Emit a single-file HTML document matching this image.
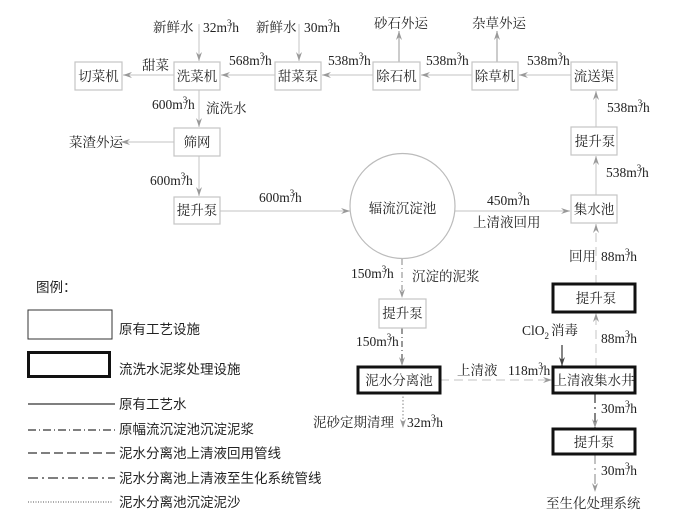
<!DOCTYPE html>
<html><head><meta charset="utf-8"><style>
html,body{margin:0;padding:0;background:#fff;}
svg{display:block;}
.t{font-family:"Liberation Serif","Noto Serif CJK SC",serif;font-size:13.5px;fill:#222;}
.l{font-family:"Liberation Sans","Noto Sans CJK SC",sans-serif;font-size:13.5px;fill:#222;}
.bx{fill:#fff;stroke:#c4c4c4;stroke-width:1.2;}
.bk{fill:#fff;stroke:#111;stroke-width:3;}
.ln{stroke:#cfcfcf;stroke-width:1.2;fill:none;}
</style></head><body>
<svg width="700" height="527" viewBox="0 0 700 527" xmlns="http://www.w3.org/2000/svg">
<defs>
<marker id="a" markerWidth="10" markerHeight="8" refX="9" refY="4" orient="auto" markerUnits="userSpaceOnUse">
<path d="M0,1 L9,4 L0,7 L3,4 z" fill="#999"/>
</marker>
<marker id="b" markerWidth="10" markerHeight="8" refX="9" refY="4" orient="auto" markerUnits="userSpaceOnUse">
<path d="M0,1 L9,4 L0,7 L3,4 z" fill="#444"/>
</marker>
</defs>

<!-- connectors -->
<g class="ln">
<line x1="174" y1="75" x2="123" y2="75" marker-end="url(#a)"/>
<line x1="275" y1="75" x2="221" y2="75" marker-end="url(#a)"/>
<line x1="373" y1="75" x2="322" y2="75" marker-end="url(#a)"/>
<line x1="472" y1="75" x2="421" y2="75" marker-end="url(#a)"/>
<line x1="571" y1="75" x2="519" y2="75" marker-end="url(#a)"/>
<line x1="199" y1="24" x2="199" y2="61" marker-end="url(#a)"/>
<line x1="299" y1="24" x2="299" y2="61" marker-end="url(#a)"/>
<line x1="399" y1="62" x2="399" y2="31" stroke="#aaa" marker-end="url(#a)"/>
<line x1="497" y1="62" x2="497" y2="31" stroke="#aaa" marker-end="url(#a)"/>
<line x1="199" y1="90" x2="199" y2="127" marker-end="url(#a)"/>
<line x1="199" y1="156" x2="199" y2="196" marker-end="url(#a)"/>
<line x1="174" y1="142" x2="121" y2="142" marker-end="url(#a)"/>
<line x1="220" y1="211" x2="350" y2="211" marker-end="url(#a)"/>
<line x1="455" y1="211" x2="570" y2="211" marker-end="url(#a)"/>
<line x1="596" y1="127" x2="596" y2="91" marker-end="url(#a)"/>
<line x1="596" y1="195" x2="596" y2="156" marker-end="url(#a)"/>
<line x1="596" y1="284" x2="596" y2="224" stroke-dasharray="9,5" marker-end="url(#a)"/>
<line x1="596" y1="367" x2="596" y2="313" stroke-dasharray="9,5" marker-end="url(#a)"/>
<line x1="402" y1="259" x2="402" y2="298" stroke="#999" stroke-dasharray="6,3,1,3" marker-end="url(#a)"/>
<line x1="402" y1="328" x2="402" y2="366" stroke="#555" stroke-dasharray="6,3,1,3" marker-end="url(#a)"/>
<line x1="403" y1="393" x2="403" y2="428" stroke="#999" stroke-dasharray="1.5,2" marker-end="url(#a)"/>
<line x1="440" y1="380" x2="552" y2="380" stroke-dasharray="9,5" marker-end="url(#a)"/>
<line x1="562" y1="345" x2="562" y2="366" stroke="#333" marker-end="url(#b)"/>
<line x1="595" y1="393" x2="595" y2="428" stroke="#333" stroke-dasharray="10,4,2,4" marker-end="url(#a)"/>
<line x1="595" y1="454" x2="595" y2="492" stroke="#999" stroke-dasharray="10,4,2,4" marker-end="url(#a)"/>
</g>

<!-- circle -->
<circle cx="402.5" cy="206" r="52.5" fill="#fff" stroke="#bbb" stroke-width="1.2"/>
<text class="t" x="402.5" y="213" text-anchor="middle">辐流沉淀池</text>

<!-- thin boxes -->
<rect class="bx" x="75" y="62" width="47" height="28"/>
<rect class="bx" x="174" y="62" width="46" height="28"/>
<rect class="bx" x="275" y="62" width="46" height="28"/>
<rect class="bx" x="373" y="62" width="47" height="28"/>
<rect class="bx" x="472" y="62" width="46" height="28"/>
<rect class="bx" x="571" y="62" width="46" height="28"/>
<rect class="bx" x="174" y="128" width="46" height="28"/>
<rect class="bx" x="174" y="197" width="46" height="27"/>
<rect class="bx" x="571" y="127" width="46" height="28"/>
<rect class="bx" x="571" y="195" width="46" height="28"/>
<rect class="bx" x="379" y="299" width="47" height="29"/>

<!-- thick boxes -->
<rect class="bk" x="358" y="367" width="82" height="26"/>
<rect class="bk" x="553" y="284" width="82" height="28"/>
<rect class="bk" x="553" y="367" width="82" height="26"/>
<rect class="bk" x="553" y="429" width="82" height="25"/>

<!-- box labels -->
<g class="t" text-anchor="middle">
<text x="98.5" y="81">切菜机</text>
<text x="197" y="81">洗菜机</text>
<text x="298" y="81">甜菜泵</text>
<text x="396.5" y="81">除石机</text>
<text x="495" y="81">除草机</text>
<text x="594" y="81">流送渠</text>
<text x="197" y="147">筛网</text>
<text x="197" y="215">提升泵</text>
<text x="595" y="146">提升泵</text>
<text x="594" y="214">集水池</text>
<text x="402.5" y="318">提升泵</text>
<text x="399" y="385">泥水分离池</text>
<text x="596" y="303">提升泵</text>
<text x="594" y="385">上清液集水井</text>
<text x="594" y="447">提升泵</text>
</g>

<!-- labels -->
<g class="t">
<text x="153" y="32">新鲜水</text>
<text x="203" y="32">32m<tspan dy="-6" font-size="9">3</tspan><tspan dx="-3" dy="6">/h</tspan></text>
<text x="256" y="32">新鲜水</text>
<text x="304" y="32">30m<tspan dy="-6" font-size="9">3</tspan><tspan dx="-3" dy="6">/h</tspan></text>
<text x="142" y="70">甜菜</text>
<text x="229" y="65">568m<tspan dy="-6" font-size="9">3</tspan><tspan dx="-3" dy="6">/h</tspan></text>
<text x="328" y="65">538m<tspan dy="-6" font-size="9">3</tspan><tspan dx="-3" dy="6">/h</tspan></text>
<text x="426" y="65">538m<tspan dy="-6" font-size="9">3</tspan><tspan dx="-3" dy="6">/h</tspan></text>
<text x="527" y="65">538m<tspan dy="-6" font-size="9">3</tspan><tspan dx="-3" dy="6">/h</tspan></text>
<text x="374" y="28">砂石外运</text>
<text x="472" y="28">杂草外运</text>
<text x="152" y="109">600m<tspan dy="-6" font-size="9">3</tspan><tspan dx="-3" dy="6">/h</tspan></text>
<text x="206" y="113">流洗水</text>
<text x="69" y="147">菜渣外运</text>
<text x="150" y="185">600m<tspan dy="-6" font-size="9">3</tspan><tspan dx="-3" dy="6">/h</tspan></text>
<text x="259" y="202">600m<tspan dy="-6" font-size="9">3</tspan><tspan dx="-3" dy="6">/h</tspan></text>
<text x="607" y="112">538m<tspan dy="-6" font-size="9">3</tspan><tspan dx="-3" dy="6">/h</tspan></text>
<text x="606" y="177">538m<tspan dy="-6" font-size="9">3</tspan><tspan dx="-3" dy="6">/h</tspan></text>
<text x="487" y="205">450m<tspan dy="-6" font-size="9">3</tspan><tspan dx="-3" dy="6">/h</tspan></text>
<text x="473" y="227">上清液回用</text>
<text x="351" y="278">150m<tspan dy="-6" font-size="9">3</tspan><tspan dx="-3" dy="6">/h</tspan></text>
<text x="412" y="281">沉淀的泥浆</text>
<text x="569" y="261">回用</text>
<text x="601" y="261">88m<tspan dy="-6" font-size="9">3</tspan><tspan dx="-3" dy="6">/h</tspan></text>
<text x="522" y="335">ClO<tspan dy="4" font-size="9">2</tspan><tspan dy="-4" dx="2">消毒</tspan></text>
<text x="356" y="346">150m<tspan dy="-6" font-size="9">3</tspan><tspan dx="-3" dy="6">/h</tspan></text>
<text x="601" y="343">88m<tspan dy="-6" font-size="9">3</tspan><tspan dx="-3" dy="6">/h</tspan></text>
<text x="457" y="375">上清液</text>
<text x="508" y="375">118m<tspan dy="-6" font-size="9">3</tspan><tspan dx="-3" dy="6">/h</tspan></text>
<text x="313" y="427">泥砂定期清理</text>
<text x="407" y="427">32m<tspan dy="-6" font-size="9">3</tspan><tspan dx="-3" dy="6">/h</tspan></text>
<text x="601" y="413">30m<tspan dy="-6" font-size="9">3</tspan><tspan dx="-3" dy="6">/h</tspan></text>
<text x="601" y="475">30m<tspan dy="-6" font-size="9">3</tspan><tspan dx="-3" dy="6">/h</tspan></text>
<text x="546" y="508">至生化处理系统</text>
</g>

<!-- legend -->
<text class="l" x="36" y="292">图例：</text>
<rect x="28" y="310" width="84" height="29" fill="#fff" stroke="#333" stroke-width="1"/>
<text class="l" x="119" y="334">原有工艺设施</text>
<rect x="28.5" y="352.5" width="81" height="24" fill="#fff" stroke="#111" stroke-width="3"/>
<text class="l" x="119" y="374">流洗水泥浆处理设施</text>
<line x1="28" y1="404" x2="115" y2="404" stroke="#555" stroke-width="1.5"/>
<text class="l" x="119" y="409">原有工艺水</text>
<line x1="28" y1="430" x2="115" y2="430" stroke="#333" stroke-width="1.2" stroke-dasharray="8,3,1,3"/>
<text class="l" x="119" y="434">原幅流沉淀池沉淀泥浆</text>
<line x1="28" y1="453" x2="115" y2="453" stroke="#333" stroke-width="1.2" stroke-dasharray="9,4"/>
<text class="l" x="119" y="458">泥水分离池上清液回用管线</text>
<line x1="28" y1="478" x2="115" y2="478" stroke="#333" stroke-width="1.2" stroke-dasharray="10,4,2,4"/>
<text class="l" x="119" y="483">泥水分离池上清液至生化系统管线</text>
<line x1="28" y1="502" x2="112" y2="502" stroke="#555" stroke-width="1" stroke-dasharray="1,1.5"/>
<text class="l" x="119" y="507">泥水分离池沉淀泥沙</text>
</svg>
</body></html>
